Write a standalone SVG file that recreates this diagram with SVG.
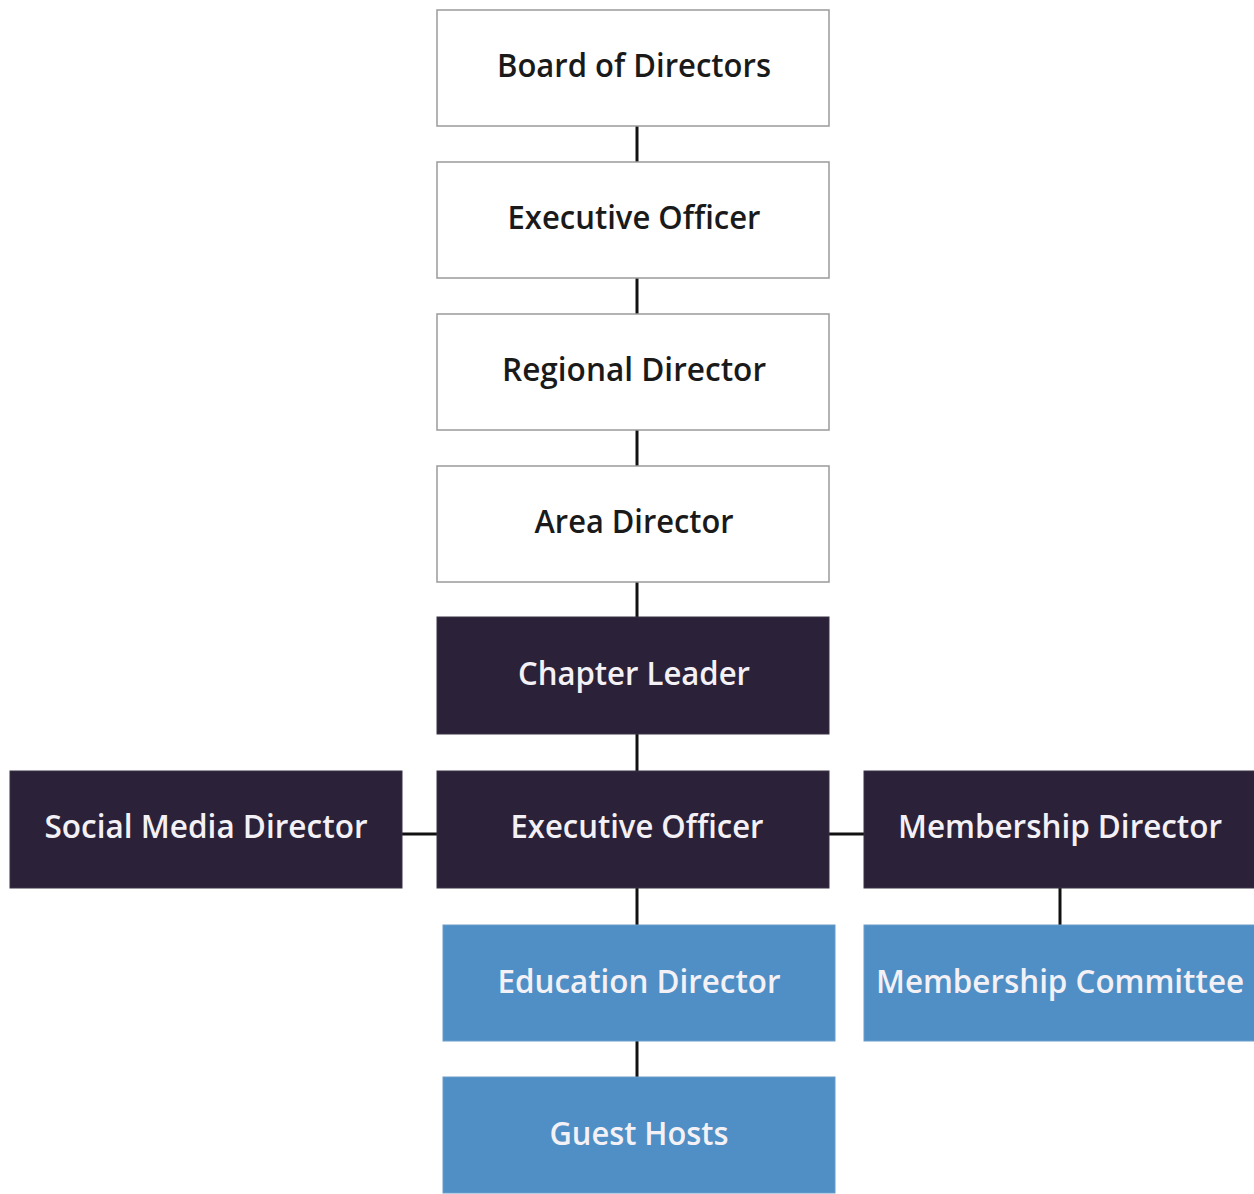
<svg xmlns="http://www.w3.org/2000/svg" width="1254" height="1194" viewBox="0 0 1254 1194">
  <style>
    .box-light { fill: #ffffff; stroke: #9a9a9a; stroke-width: 1.5; }
    .box-dark { fill: #2b2139; stroke: #3a3345; stroke-width: 1; }
    .box-blue { fill: #4f8fc5; stroke: #6a9ccb; stroke-width: 1; }
    .label { font-family: "Open Sans", "Noto Sans", sans-serif; font-weight: 600; font-size: 32px; text-anchor: middle; }
    .label-dark { fill: #1a1a1a; }
    .label-light { fill: #f4f1f6; }
    .link { stroke: #111111; stroke-width: 3; fill: none; }
  </style>

  <!-- connectors -->
  <g id="connectors">
    <line class="link" x1="637" y1="126" x2="637" y2="162"/>
    <line class="link" x1="637" y1="278" x2="637" y2="314"/>
    <line class="link" x1="637" y1="430" x2="637" y2="466"/>
    <line class="link" x1="637" y1="582" x2="637" y2="617"/>
    <line class="link" x1="637" y1="734" x2="637" y2="771"/>
    <line class="link" x1="402" y1="834" x2="437" y2="834"/>
    <line class="link" x1="829" y1="834" x2="864" y2="834"/>
    <line class="link" x1="637" y1="888" x2="637" y2="925"/>
    <line class="link" x1="637" y1="1041" x2="637" y2="1077"/>
    <line class="link" x1="1060" y1="888" x2="1060" y2="925"/>
  </g>

  <g id="board-of-directors">
    <rect class="box-light" x="437" y="10" width="392" height="116"/>
    <text class="label label-dark" x="634" y="77" textLength="274" lengthAdjust="spacingAndGlyphs">Board of Directors</text>
  </g>
  <g id="executive-officer-top">
    <rect class="box-light" x="437" y="162" width="392" height="116"/>
    <text class="label label-dark" x="634" y="229" textLength="253" lengthAdjust="spacingAndGlyphs">Executive Officer</text>
  </g>
  <g id="regional-director">
    <rect class="box-light" x="437" y="314" width="392" height="116"/>
    <text class="label label-dark" x="634" y="381" textLength="264" lengthAdjust="spacingAndGlyphs">Regional Director</text>
  </g>
  <g id="area-director">
    <rect class="box-light" x="437" y="466" width="392" height="116"/>
    <text class="label label-dark" x="634" y="533" textLength="199" lengthAdjust="spacingAndGlyphs">Area Director</text>
  </g>
  <g id="chapter-leader">
    <rect class="box-dark" x="437" y="617" width="392" height="117"/>
    <text class="label label-light" x="634" y="685" textLength="232" lengthAdjust="spacingAndGlyphs">Chapter Leader</text>
  </g>
  <g id="executive-officer">
    <rect class="box-dark" x="437" y="771" width="392" height="117"/>
    <text class="label label-light" x="637" y="838" textLength="253" lengthAdjust="spacingAndGlyphs">Executive Officer</text>
  </g>
  <g id="social-media-director">
    <rect class="box-dark" x="10" y="771" width="392" height="117"/>
    <text class="label label-light" x="206" y="838" textLength="323" lengthAdjust="spacingAndGlyphs">Social Media Director</text>
  </g>
  <g id="membership-director">
    <rect class="box-dark" x="864" y="771" width="392" height="117"/>
    <text class="label label-light" x="1060" y="838" textLength="324" lengthAdjust="spacingAndGlyphs">Membership Director</text>
  </g>
  <g id="education-director">
    <rect class="box-blue" x="443" y="925" width="392" height="116"/>
    <text class="label label-light" x="639" y="993" textLength="283" lengthAdjust="spacingAndGlyphs">Education Director</text>
  </g>
  <g id="membership-committee">
    <rect class="box-blue" x="864" y="925" width="392" height="116"/>
    <text class="label label-light" x="1060" y="993" textLength="368" lengthAdjust="spacingAndGlyphs">Membership Committee</text>
  </g>
  <g id="guest-hosts">
    <rect class="box-blue" x="443" y="1077" width="392" height="116"/>
    <text class="label label-light" x="639" y="1145" textLength="179" lengthAdjust="spacingAndGlyphs">Guest Hosts</text>
  </g>
</svg>
